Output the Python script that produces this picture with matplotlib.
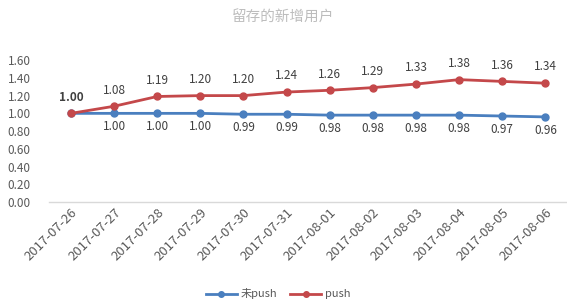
import matplotlib
matplotlib.use("Agg")
import matplotlib.pyplot as plt

plt.rcParams['font.family'] = ['Noto Sans CJK SC', 'DejaVu Sans']

dates = ["2017-07-26", "2017-07-27", "2017-07-28", "2017-07-29", "2017-07-30", "2017-07-31",
         "2017-08-01", "2017-08-02", "2017-08-03", "2017-08-04", "2017-08-05", "2017-08-06"]
no_push = [1.00, 1.00, 1.00, 1.00, 0.99, 0.99, 0.98, 0.98, 0.98, 0.98, 0.97, 0.96]
push = [1.00, 1.08, 1.19, 1.20, 1.20, 1.24, 1.26, 1.29, 1.33, 1.38, 1.36, 1.34]
yticks = [0.0, 0.2, 0.4, 0.6, 0.8, 1.0, 1.2, 1.4, 1.6]

blue = "#4a7fbf"
red = "#c4484a"

fig = plt.figure(figsize=(5.67, 2.99), dpi=100)
ax = fig.add_axes([0.087, 0.324, 0.913, 0.475])
x = list(range(len(dates)))
ax.plot(x, no_push, color=blue, lw=2.0, marker="o", ms=5, label="未push", zorder=3)
ax.plot(x, push, color=red, lw=2.0, marker="o", ms=5, label="push", zorder=4)

for i, v in enumerate(push):
    ax.annotate(f"{v:.2f}", (i, v), xytext=(0, 7), textcoords="offset points",
                ha="center", va="bottom", fontsize=8.5, color="#404040",
                fontweight="bold" if i == 0 else "normal")
for i, v in enumerate(no_push):
    if i == 0:
        continue
    ax.annotate(f"{v:.2f}", (i, v), xytext=(0, -5), textcoords="offset points",
                ha="center", va="top", fontsize=8.5, color="#404040")

ax.set_xlim(-0.5, len(dates) - 0.5)
ax.set_ylim(0, 1.6)
ax.set_yticks(yticks)
ax.set_yticklabels([f"{t:.2f}" for t in yticks])
ax.set_xticks(x)
ax.set_xticklabels(dates, rotation=45, ha="right", rotation_mode="anchor")
ax.tick_params(axis="both", length=0, labelsize=8.5, colors="#595959")
ax.tick_params(axis="x", pad=3, labelsize=9.5)
ax.tick_params(axis="y", pad=30)
for lbl in ax.get_yticklabels():
    lbl.set_horizontalalignment("left")
for s in ["top", "right", "left"]:
    ax.spines[s].set_visible(False)
ax.spines["bottom"].set_color("#d9d9d9")
ax.spines["bottom"].set_linewidth(1.0)

fig.text(0.5, 0.94, "留存的新增用户", ha="center", va="center", fontsize=10.5,
         color="#bdbdbd")

fig.legend(loc="lower center", bbox_to_anchor=(0.49, -0.035), ncol=2, frameon=False,
           fontsize=8, handlelength=2.8, handletextpad=0.3, columnspacing=1.2,
           labelcolor="#595959", markerscale=0.8)

fig.savefig("out.png", dpi=100)
